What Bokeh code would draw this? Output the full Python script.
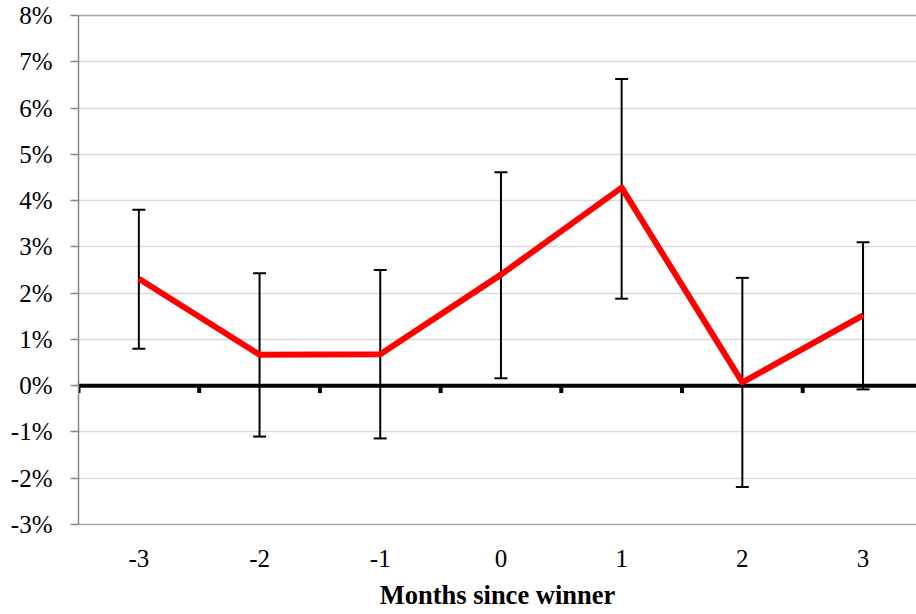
from bokeh.plotting import figure
from bokeh.models import (ColumnDataSource, Whisker, TeeHead, FixedTicker, PrintfTickFormatter,
                          Range1d, LinearAxis)
from bokeh.embed import file_html
from bokeh.resources import INLINE

# Data (percent)
months = [-3, -2, -1, 0, 1, 2, 3]
mean_ret = [2.31, 0.67, 0.68, 2.40, 4.28, 0.07, 1.52]
upper_ci = [3.80, 2.43, 2.50, 4.61, 6.63, 2.33, 3.10]
lower_ci = [0.80, -1.10, -1.14, 0.16, 1.88, -2.19, -0.08]
y_ticks = list(range(-3, 9))
x_title = "Months since winner"

FONT = "Liberation Serif"

p = figure(width=916, height=612, output_backend="svg", toolbar_location=None,
           x_range=Range1d(months[0] - 0.5, months[0] - 0.5 + 838 / 120.7),
           y_range=Range1d(y_ticks[0], y_ticks[-1]),
           min_border_left=78, min_border_right=0, min_border_top=15, min_border_bottom=88)
p.outline_line_color = None
p.background_fill_color = "white"
p.border_fill_color = "white"

# grid
p.xgrid.grid_line_color = None
p.ygrid.grid_line_color = "#d9d9d9"
p.ygrid.grid_line_width = 1.3
p.ygrid.ticker = FixedTicker(ticks=y_ticks)

# y axis
p.yaxis.ticker = FixedTicker(ticks=y_ticks)
p.yaxis.formatter = PrintfTickFormatter(format="%d%%")
p.yaxis.axis_line_color = "#868686"
p.yaxis.axis_line_width = 1.5
p.yaxis.major_tick_line_color = "#868686"
p.yaxis.major_tick_line_width = 1.5
p.yaxis.major_tick_out = 8
p.yaxis.major_tick_in = 0
p.yaxis.minor_tick_line_color = None
p.yaxis.major_label_text_font = FONT
p.yaxis.major_label_text_font_size = "25px"
p.yaxis.major_label_text_color = "black"
p.yaxis.major_label_standoff = 18

# x axis
p.xaxis.ticker = FixedTicker(ticks=months)
p.xaxis.formatter = PrintfTickFormatter(format="%d")
p.xaxis.axis_line_color = "#a6a6a6"
p.xaxis.axis_line_width = 1.5
p.xaxis.major_tick_line_color = None
p.xaxis.major_tick_out = 0
p.xaxis.major_tick_in = 0
p.xaxis.minor_tick_line_color = None
p.xaxis.major_label_text_font = FONT
p.xaxis.major_label_text_font_size = "25px"
p.xaxis.major_label_text_color = "black"
p.xaxis.major_label_standoff = 25
p.xaxis.axis_label = x_title
p.xaxis.axis_label_text_font = FONT
p.xaxis.axis_label_text_font_size = "26.5px"
p.xaxis.axis_label_text_font_style = "bold"
p.xaxis.axis_label_text_color = "black"
p.xaxis.axis_label_standoff = 10

# top border line as an empty axis
top = LinearAxis(ticker=FixedTicker(ticks=[]), axis_line_color="#a6a6a6", axis_line_width=1.5,
                 major_tick_line_color=None, minor_tick_line_color=None,
                 major_label_text_font_size="0px")
p.add_layout(top, "above")

# zero axis line with category-boundary ticks
lo = months[0] - 0.5
hi = months[-1] + 0.5
p.segment(x0=[lo], y0=[0], x1=[hi], y1=[0], line_color="black", line_width=4)
bounds = [m - 0.5 for m in months] + [hi]
p.segment(x0=bounds, y0=[0] * len(bounds), x1=bounds, y1=[-0.16] * len(bounds),
          line_color="black", line_width=4)

# error bars
src = ColumnDataSource(dict(x=months, y=mean_ret, upper=upper_ci, lower=lower_ci))
w = Whisker(base="x", upper="upper", lower="lower", source=src,
            line_color="black", line_width=2,
            upper_head=TeeHead(size=13, line_color="black", line_width=2),
            lower_head=TeeHead(size=13, line_color="black", line_width=2))
p.add_layout(w)

# mean line
p.line("x", "y", source=src, line_color="#ff0000", line_width=6, line_join="round")

open("out.html", "w").write(file_html(p, INLINE))
